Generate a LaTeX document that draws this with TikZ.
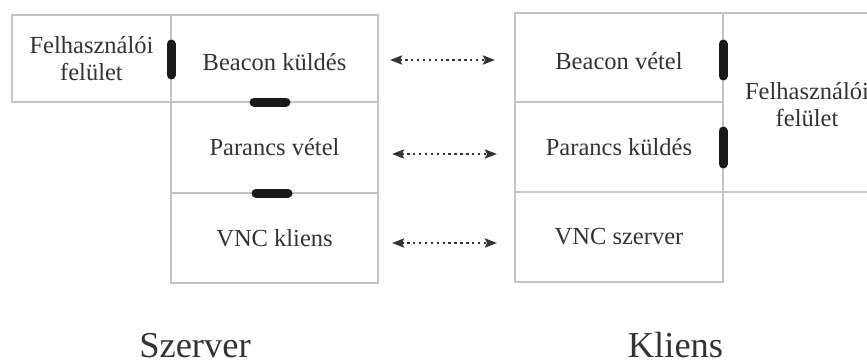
\documentclass[tikz,border=0pt]{standalone}
\usepackage{fontspec}
\setmainfont{Liberation Serif}
\usetikzlibrary{arrows.meta,calc}
\definecolor{inkgrey}{HTML}{333333}
\definecolor{rulegrey}{HTML}{C4C4C4}
\definecolor{barblack}{HTML}{1A1A1A}
% lower a label inside its cell without changing the cell's size
\newcommand{\dropby}[2]{\raisebox{-#1}[\height][\depth]{#2}}
\begin{document}
\begin{tikzpicture}[x=1pt,y=-1pt,
  cell/.style={draw=rulegrey,line width=1.3pt,inner sep=0pt,outer sep=0pt,
    text=inkgrey,align=center,font=\fontsize{24.5}{27}\selectfont},
  bar/.style={draw=barblack,line width=9pt,line cap=round},
  link/.style={draw=inkgrey,line width=2.4pt,dash pattern=on 2.4pt off 3.5pt,
    {Stealth[length=12pt,width=9pt,inset=2pt]}-{Stealth[length=12pt,width=9pt,inset=2pt]}},
  side/.style={text=inkgrey,font=\fontsize{36.5}{40}\selectfont,anchor=base}]
\useasboundingbox (0,0) rectangle (867,361);
\clip (0,0) rectangle (867,361);

% server side
\node[cell,minimum width=159pt,minimum height=87pt] (sui) at (91.5,58.5) {Felhasználói\\felület};
\node[cell,minimum width=207pt,minimum height=87pt] (bk) at (274.5,58.5) {\dropby{3.5pt}{Beacon küldés}};
\node[cell,minimum width=207pt,minimum height=91pt] (pv) at (274.5,147.5) {Parancs vétel};
\node[cell,minimum width=207pt,minimum height=90pt] (vk) at (274.5,238) {VNC kliens};

% client side
\node[cell,minimum width=208pt,minimum height=89pt] (bv) at (619,57.5) {\dropby{3.5pt}{Beacon vétel}};
\node[cell,minimum width=208pt,minimum height=90pt] (pk) at (619,147) {Parancs küldés};
\node[cell,minimum width=208pt,minimum height=90pt] (vs) at (619,237) {VNC szerver};
\node[cell,minimum width=168pt,minimum height=179pt] (cui) at (807,102.5)
  {\dropby{5pt}{\begin{tabular}{@{}c@{}}Felhasználói\\felület\end{tabular}}};

% interface markers
\draw[bar] ([yshift=-29pt]sui.north east) -- ([yshift=-60pt]sui.north east);
\draw[bar] ([xshift=-20.5pt]bk.south) -- ([xshift=11.5pt]bk.south);
\draw[bar] ([xshift=-18.5pt]pv.south) -- ([xshift=13.5pt]pv.south);
\draw[bar] ([yshift=-31pt]bv.north east) -- ([yshift=-63pt]bv.north east);
\draw[bar] ([yshift=-29pt]pk.north east) -- ([yshift=-62pt]pk.north east);

% links between the two sides
\draw[link,shorten <=12pt,shorten >=20pt] ([yshift=-1.5pt]bk.east) -- ([yshift=-1.5pt]bk.east -| bv.west);
\draw[link,shorten <=14pt,shorten >=18pt] ([yshift=-6.5pt]pv.east) -- ([yshift=-6.5pt]pv.east -| pk.west);
\draw[link,shorten <=14pt,shorten >=18pt] ([yshift=-5pt]vk.east) -- ([yshift=-5pt]vk.east -| vs.west);

% captions
\node[side] (szerver) at (195,357) {Szerver};
\node[side] (kliens) at (675.5,357) {Kliens};
\end{tikzpicture}
\end{document}
